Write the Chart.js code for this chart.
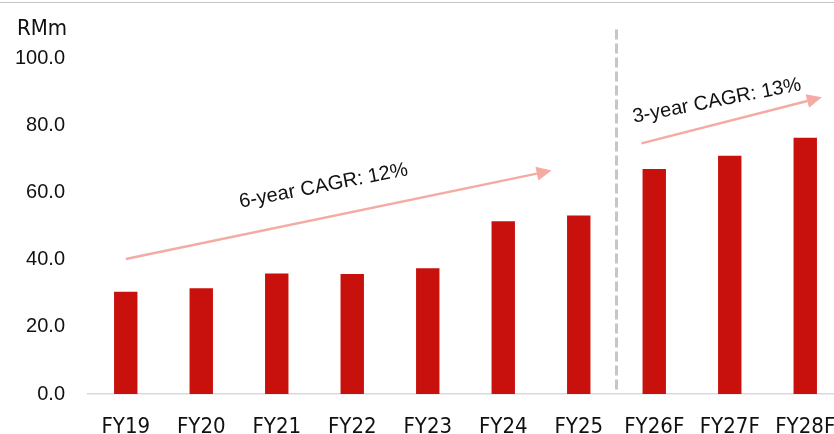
<!DOCTYPE html>
<html>
<head>
<meta charset="utf-8">
<script src="https://cdn.jsdelivr.net/npm/chart.js@4/dist/chart.umd.min.js"></script>
<style>
  html, body { margin: 0; padding: 0; background: #fff; overflow: hidden; }
  #wrap { position: relative; width: 850px; height: 434px; }
  #topRule { position: absolute; left: 0; top: 2px; width: 834px; border-top: 1.5px solid #c4c4c4; }
</style>
</head>
<body>
<div id="wrap">
  <canvas id="revChart" width="850" height="434"></canvas>
  <div id="topRule"></div>
</div>
<script>
// ── Data ──
const years = ['FY19', 'FY20', 'FY21', 'FY22', 'FY23', 'FY24', 'FY25', 'FY26F', 'FY27F', 'FY28F'];
const revenue = [30.4, 31.5, 35.9, 35.7, 37.4, 51.4, 53.1, 67.0, 70.9, 76.3];
const yTicks = [0, 20, 40, 60, 80, 100];
const unitLabel = 'RMm';

// CAGR callouts, placed in (category index, value) space
const cagrNotes = [
  { text: '6-year CAGR: 12%', at: [2.62, 61.9], from: [0, 40.2], to: [5.64, 66.5] },
  { text: '3-year CAGR: 13%', at: [7.83, 87.2], from: [6.83, 74.6], to: [9.22, 88.3] }
];
// actual / forecast split sits between FY25 and FY26F
const splitIndex = 6.5;
const splitTop = 108.5;

const BAR_RED = '#c8110d';
const ARROW_PINK = '#f4aba3';
const NARROW = "'Liberation Sans Narrow', 'DejaVu Sans Condensed', 'Roboto Condensed', sans-serif";

const overlay = {
  id: 'overlay',
  afterDatasetsDraw(chart) {
    const { ctx, scales: { x, y }, chartArea } = chart;
    ctx.save();

    // forecast divider
    const sx = x.getPixelForValue(splitIndex);
    ctx.strokeStyle = '#c6c6c6';
    ctx.lineWidth = 3;
    ctx.setLineDash([10, 4]);
    ctx.beginPath();
    ctx.moveTo(sx, y.getPixelForValue(splitTop));
    ctx.lineTo(sx, chartArea.bottom - 2);
    ctx.stroke();
    ctx.setLineDash([]);

    // growth arrows + labels
    cagrNotes.forEach(n => {
      const x1 = x.getPixelForValue(n.from[0]), y1 = y.getPixelForValue(n.from[1]);
      const x2 = x.getPixelForValue(n.to[0]), y2 = y.getPixelForValue(n.to[1]);
      const ang = Math.atan2(y2 - y1, x2 - x1);
      const headLen = 15, headHalf = 7;
      ctx.strokeStyle = ARROW_PINK;
      ctx.fillStyle = ARROW_PINK;
      ctx.lineWidth = 2.5;
      ctx.beginPath();
      ctx.moveTo(x1, y1);
      ctx.lineTo(x2 - headLen * Math.cos(ang), y2 - headLen * Math.sin(ang));
      ctx.stroke();
      ctx.beginPath();
      ctx.moveTo(x2, y2);
      ctx.lineTo(x2 - headLen * Math.cos(ang) + headHalf * Math.sin(ang), y2 - headLen * Math.sin(ang) - headHalf * Math.cos(ang));
      ctx.lineTo(x2 - headLen * Math.cos(ang) - headHalf * Math.sin(ang), y2 - headLen * Math.sin(ang) + headHalf * Math.cos(ang));
      ctx.closePath();
      ctx.fill();

      ctx.save();
      ctx.translate(x.getPixelForValue(n.at[0]), y.getPixelForValue(n.at[1]));
      ctx.rotate(-11 * Math.PI / 180);
      ctx.fillStyle = '#111';
      ctx.font = "20px 'Liberation Sans', Arial, sans-serif";
      ctx.textAlign = 'center';
      ctx.textBaseline = 'middle';
      ctx.fillText(n.text, 0, 0);
      ctx.restore();
    });

    // unit label above the value axis
    ctx.fillStyle = '#111';
    ctx.font = '22px ' + NARROW;
    ctx.textAlign = 'left';
    ctx.textBaseline = 'middle';
    ctx.fillText(unitLabel, 17, 29);
    ctx.restore();
  }
};

new Chart(document.getElementById('revChart'), {
  type: 'bar',
  data: {
    labels: years,
    datasets: [{
      data: revenue,
      backgroundColor: BAR_RED,
      borderWidth: 0,
      categoryPercentage: 1,
      barPercentage: 0.31
    }]
  },
  options: {
    responsive: false,
    animation: false,
    layout: { padding: { top: 58, right: 7, bottom: 0, left: 0 } },
    plugins: { legend: { display: false }, tooltip: { enabled: false } },
    scales: {
      x: {
        grid: { display: false, drawTicks: false },
        border: { display: true, color: '#d9d9d9', width: 1.5 },
        ticks: { color: '#111', padding: 20, maxRotation: 0, font: { size: 22, family: NARROW } },
        // keep the plot edges fixed; the last label may run past the edge
        afterFit: s => { s.height = 40; s.paddingLeft = 0; s.paddingRight = 0; }
      },
      y: {
        min: 0, max: 100,
        afterBuildTicks: s => { s.ticks = yTicks.map(v => ({ value: v })); },
        grid: { display: false, drawTicks: false },
        border: { display: false },
        ticks: {
          color: '#111', padding: 23,
          font: { size: 20, family: "'Liberation Sans', Arial, sans-serif" },
          callback: v => v.toFixed(1)
        },
        afterFit: s => { s.width = 88; s.paddingTop = 0; s.paddingBottom = 0; }
      }
    }
  },
  plugins: [overlay]
});
</script>
</body>
</html>
